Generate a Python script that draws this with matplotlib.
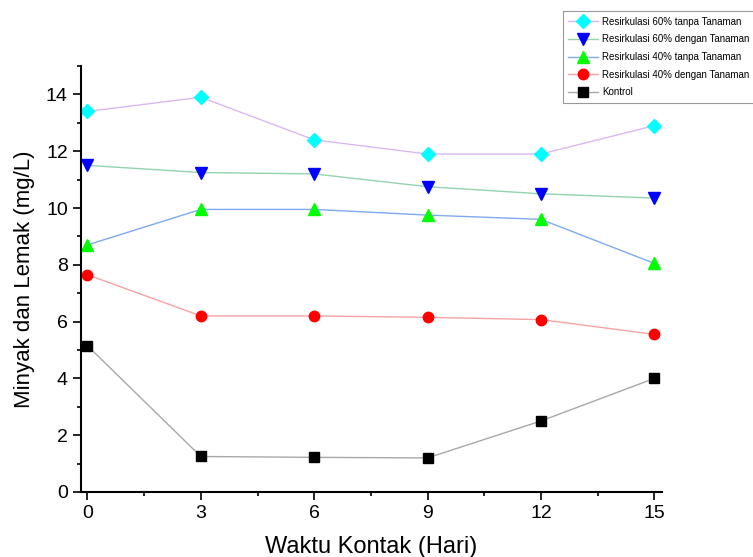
import matplotlib
matplotlib.use("Agg")
import matplotlib.pyplot as plt

plt.rcParams["font.family"] = ["Liberation Sans", "DejaVu Sans"]

days = [0, 3, 6, 9, 12, 15]
res60_tanpa = [13.4, 13.9, 12.4, 11.9, 11.9, 12.9]
res60_dengan = [11.5, 11.25, 11.2, 10.75, 10.5, 10.35]
res40_tanpa = [8.7, 9.95, 9.95, 9.75, 9.6, 8.05]
res40_dengan = [7.65, 6.2, 6.2, 6.15, 6.07, 5.55]
kontrol = [5.15, 1.25, 1.22, 1.2, 2.5, 4.0]

series = [
    ("Resirkulasi 60% tanpa Tanaman", res60_tanpa, "D", "#00ffff", "#d9b8f2", 7),
    ("Resirkulasi 60% dengan Tanaman", res60_dengan, "v", "#0000ff", "#93d3ad", 8),
    ("Resirkulasi 40% tanpa Tanaman", res40_tanpa, "^", "#00ff00", "#7fa9f0", 8),
    ("Resirkulasi 40% dengan Tanaman", res40_dengan, "o", "#ff0000", "#f5a3a3", 7.5),
    ("Kontrol", kontrol, "s", "#000000", "#a8a8a8", 7),
]

fig = plt.figure(figsize=(7.53, 5.57), dpi=100)
ax = fig.add_axes([0.1076, 0.1167, 0.7714, 0.7648])

for label, vals, mk, mc, lc, ms in series:
    ax.plot(days, vals, color=lc, lw=1, marker=mk, markersize=ms,
            markerfacecolor=mc, markeredgecolor=mc, label=label)

ax.set_xlim(-0.17, 15.2)
ax.set_ylim(0, 15)
ax.set_xticks(days)
ax.set_xticks([1.5, 4.5, 7.5, 10.5, 13.5], minor=True)
ax.set_yticks(range(0, 15, 2))
ax.set_yticks(range(1, 16, 2), minor=True)
ax.tick_params(axis="both", which="major", direction="out", length=6, width=1.2, labelsize=14)
ax.tick_params(axis="both", which="minor", direction="out", length=3, width=1.2)
for side in ("top", "right"):
    ax.spines[side].set_visible(False)
for side in ("left", "bottom"):
    ax.spines[side].set_linewidth(1.5)

ax.set_xlabel("Waktu Kontak (Hari)", fontsize=17, labelpad=10)
ax.set_ylabel("Minyak dan Lemak (mg/L)", fontsize=16, labelpad=8)

leg = ax.legend(loc="upper left", bbox_to_anchor=(0.829, 1.129), borderaxespad=0,
                frameon=True, fancybox=False, edgecolor="#808080",
                prop={"size": 7}, handlelength=3.0, handletextpad=0.5,
                borderpad=0.6, labelspacing=0.78)
leg.get_frame().set_linewidth(0.8)

fig.savefig("out.png", dpi=100)
